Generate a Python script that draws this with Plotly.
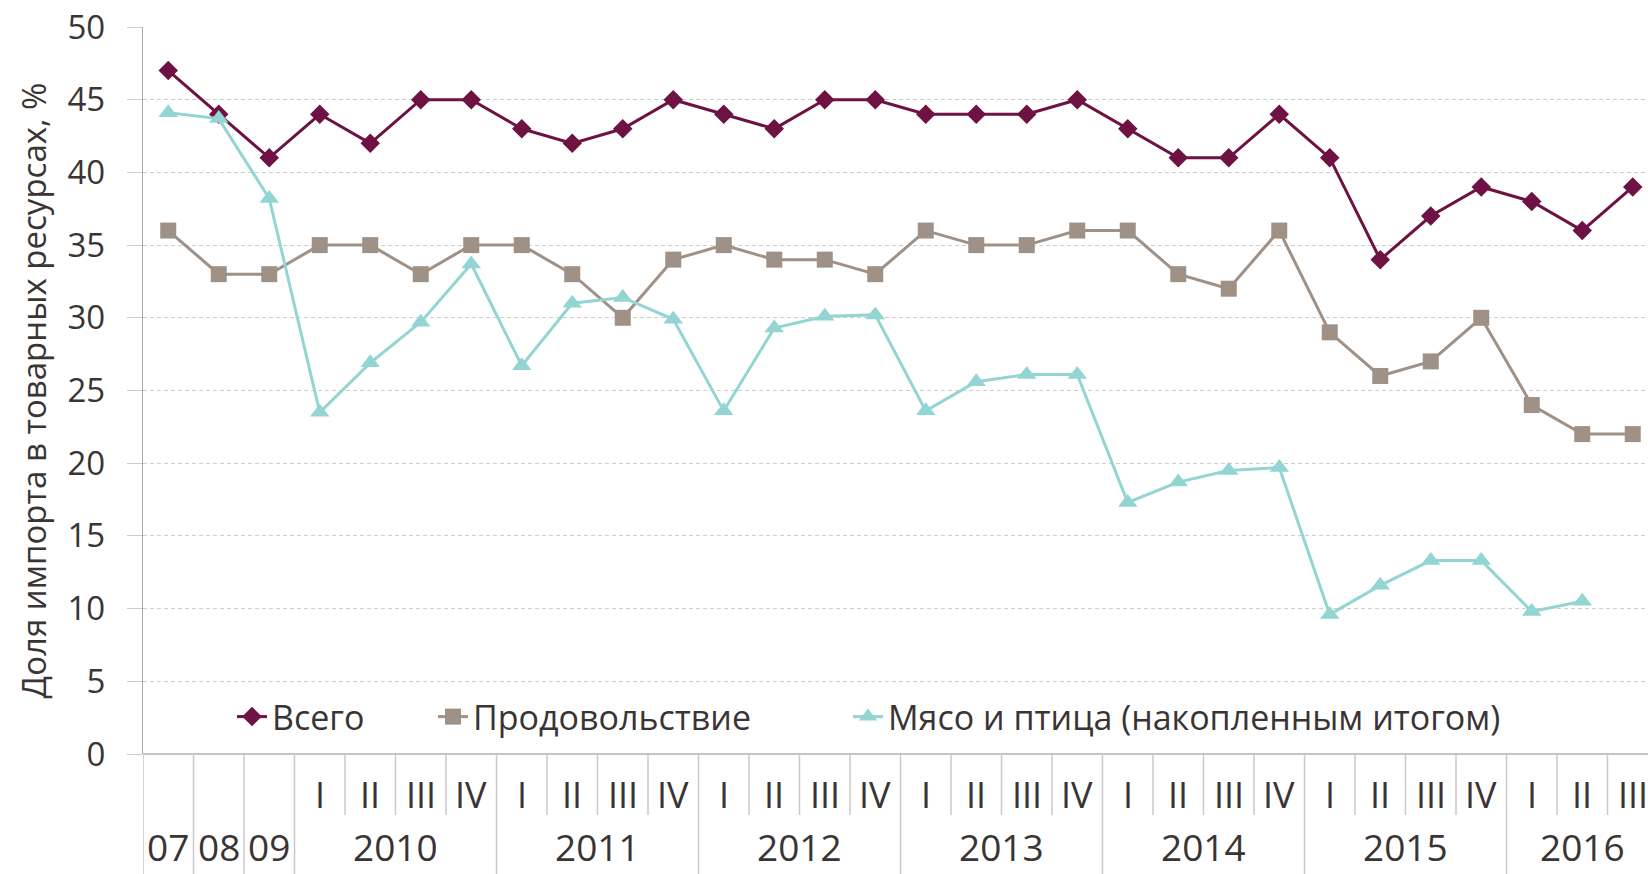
import plotly.graph_objects as go

# ---------------- data ----------------
year_of_point = ["07", "08", "09"] + \
    ["2010"] * 4 + ["2011"] * 4 + ["2012"] * 4 + ["2013"] * 4 + \
    ["2014"] * 4 + ["2015"] * 4 + ["2016"] * 3
quarter_labels = ["", "", ""] + ["I", "II", "III", "IV"] * 6 + ["I", "II", "III"]

total = [47, 44, 41,
         44, 42, 45, 45,
         43, 42, 43, 45,
         44, 43, 45, 45,
         44, 44, 44, 45,
         43, 41, 41, 44,
         41, 34, 37, 39,
         38, 36, 39]
food = [36, 33, 33,
        35, 35, 33, 35,
        35, 33, 30, 34,
        35, 34, 34, 33,
        36, 35, 35, 36,
        36, 33, 32, 36,
        29, 26, 27, 30,
        24, 22, 22]
meat = [44.1, 43.7, 38.2,
        23.5, 26.9, 29.7, 33.7,
        26.7, 31.0, 31.4, 29.9,
        23.6, 29.3, 30.1, 30.2,
        23.6, 25.6, 26.1, 26.1,
        17.3, 18.7, 19.5, 19.7,
        9.6, 11.6, 13.3, 13.3,
        9.8, 10.5]

series_names = ["Всего", "Продовольствие", "Мясо и птица (накопленным итогом)"]
y_title = "Доля импорта в товарных ресурсах, %"
y_ticks = [0, 5, 10, 15, 20, 25, 30, 35, 40, 45, 50]

# ---------------- style ----------------
TXT = "#3a3434"
FONT = "Open Sans"
C_TOTAL = "#6d1242"
C_FOOD = "#9f9185"
C_MEAT = "#93d5d2"
SEP = "#c9c9c9"

idx = list(range(len(year_of_point)))

fig = go.Figure()
fig.add_trace(go.Scatter(
    x=idx, y=total, name=series_names[0], mode="lines+markers",
    line=dict(color=C_TOTAL, width=3),
    marker=dict(symbol="diamond", size=15, color=C_TOTAL),
    legend="legend"))
fig.add_trace(go.Scatter(
    x=idx, y=food, name=series_names[1], mode="lines+markers",
    line=dict(color=C_FOOD, width=3),
    marker=dict(symbol="square", size=16, color=C_FOOD),
    legend="legend2"))
fig.add_trace(go.Scatter(
    x=idx[:len(meat)], y=meat, name=series_names[2], mode="lines+markers",
    line=dict(color=C_MEAT, width=3),
    marker=dict(symbol="triangle-up", size=17, color=C_MEAT),
    legend="legend3"))

W, H = 1648, 874
L, R, T, B = 143, 0, 27, 120
pw = W - L - R
ph = H - T - B
x_max = -0.5 + pw / 50.5

def px_to_paper_x(px):
    return (px - L) / pw

def px_to_paper_y(py):
    return (H - B - py) / ph

# separators under the axis
shapes = []
bounds = [-0.5] + [i + 0.5 for i in range(len(year_of_point) - 1)]
for b in bounds:
    if b == -0.5:
        full = True
    else:
        i = int(b - 0.5)
        full = year_of_point[i] != year_of_point[i + 1]
    y0 = px_to_paper_y(H) if full else px_to_paper_y(815)
    shapes.append(dict(type="line", xref="x", yref="paper", x0=b, x1=b,
                       y0=0, y1=y0, line=dict(color=SEP, width=1.5)))

annotations = []
# quarter labels
for i, q in enumerate(quarter_labels):
    if q:
        annotations.append(dict(x=i, y=px_to_paper_y(794), xref="x", yref="paper",
                                text=q, showarrow=False, yanchor="middle",
                                font=dict(family=FONT, size=36, color=TXT)))
# year labels
seen = []
for y in year_of_point:
    if y not in seen:
        seen.append(y)
for y in seen:
    members = [i for i, v in enumerate(year_of_point) if v == y]
    cx = (members[0] + members[-1]) / 2
    annotations.append(dict(x=cx, y=px_to_paper_y(874), xref="x", yref="paper",
                            text=y, showarrow=False, yanchor="bottom",
                            font=dict(family=FONT, size=37, color=TXT)))

leg_common = dict(orientation="h", yanchor="middle", xanchor="left",
                  bgcolor="rgba(0,0,0,0)", borderwidth=0,
                  font=dict(family=FONT, size=34, color=TXT))
leg_y = px_to_paper_y(717)

fig.update_layout(
    width=W, height=H, autosize=False,
    margin=dict(l=L, r=R, t=T, b=B, pad=0),
    paper_bgcolor="white", plot_bgcolor="white",
    font=dict(family=FONT, color=TXT),
    showlegend=True,
    legend=dict(x=px_to_paper_x(232), y=leg_y, **leg_common),
    legend2=dict(x=px_to_paper_x(433), y=leg_y, **leg_common),
    legend3=dict(x=px_to_paper_x(848), y=leg_y, **leg_common),
    xaxis=dict(range=[-0.5, x_max], showgrid=False, zeroline=False,
               showline=False, showticklabels=False, ticks="",
               fixedrange=True),
    yaxis=dict(range=[0, 50], tickmode="array", tickvals=y_ticks,
               showgrid=True, gridcolor="#cdcdcd", gridwidth=1, griddash="4px,3px",
               zeroline=True, zerolinecolor="#c4c4c4", zerolinewidth=1.5,
               showline=True, linecolor="#a8a8a8", linewidth=1.3,
               ticks="outside", ticklen=15, tickcolor="#cdcdcd", tickwidth=1,
               ticklabelstandoff=15,
               tickfont=dict(family=FONT, size=33, color=TXT),
               title=dict(text=y_title, standoff=10,
                          font=dict(family=FONT, size=33, color=TXT)),
               fixedrange=True),
    shapes=shapes,
    annotations=annotations,
)

fig.write_html("out.html", config={"displayModeBar": False},
               post_script="document.body.style.margin='0';document.body.style.overflow='hidden';")
